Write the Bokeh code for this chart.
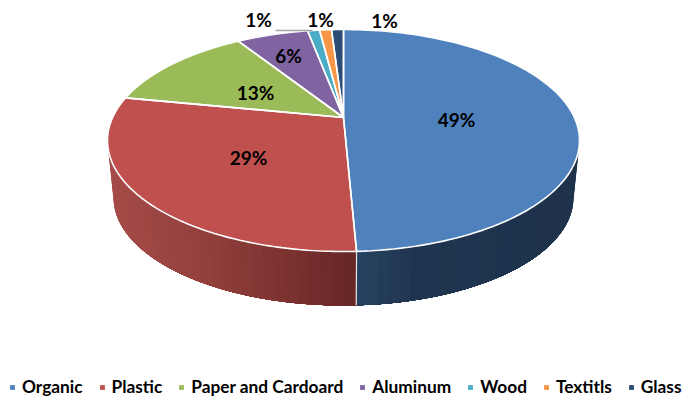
import numpy as np
from bokeh.core.properties import value
from bokeh.embed import file_html
from bokeh.models import Legend, LegendItem, Range1d
from bokeh.plotting import figure
from bokeh.resources import INLINE

categories = ["Organic", "Plastic", "Paper and Cardoard", "Aluminum", "Wood", "Textitls", "Glass"]
percent = [49, 29, 13, 6, 1, 1, 1]
colors = ["#4F81BD", "#C0504D", "#9BBB59", "#8064A2", "#4BACC6", "#F79646", "#2C4D75"]
label_texts = ["49%", "29%", "13%", "6%", "1%", "1%", "1%"]

# Label centres in page pixels
label_x = [456, 248, 255, 288, 384, 320, 258]
label_y = [119, 157, 92, 55, 20, 19, 19]

# Disc geometry in page pixels
CX, CY, RX, RY = 343.0, 140.0, 236.0, 111.0
BOTTOM_CY, BOTTOM_RX, BOTTOM_RY = 197.0, 230.0, 108.0
HUB_X, HUB_Y = 343.0, 117.0

# Perspective of the tilted disc, expressed as a map of the unit circle onto itself
TILT = complex(-0.0054, 0.1036)
TURN = 0.0099

# Colour stops along the front wall: (page x, rgb)
plastic_wall = [(107, (166, 76, 73)), (200, (146, 64, 60)), (280, (125, 50, 48)), (356, (100, 38, 38))]
organic_wall = [(356, (40, 68, 100)), (420, (32, 54, 80)), (579, (30, 50, 75))]


def project(theta):
    """Map a clockwise angle on the disc (0 = far side) to page pixels."""
    z = np.exp(1j * (np.pi / 2 - theta))
    w = (z + TILT) / (1 + np.conj(TILT) * z) * np.exp(-1j * TURN)
    return CX + RX * w.real, CY - RY * w.imag


def screen_param(theta):
    """Ellipse parameter of a projected angle, shared by the rim and the base."""
    px, py = project(theta)
    return np.arctan2((px - CX) / RX, (CY - py) / RY) % (2 * np.pi)


def ramp(stops, x):
    xs = [s[0] for s in stops]
    r, g, b = (np.interp(x, xs, [s[1][i] for s in stops]) for i in range(3))
    return "#%02x%02x%02x" % (int(r), int(g), int(b))


p = figure(width=684, height=400, output_backend="svg", toolbar_location=None,
           x_range=Range1d(0, 684), y_range=Range1d(400, 0), min_border=0,
           outline_line_color=None)
p.axis.visible = False
p.grid.visible = False

bounds = 2 * np.pi * np.concatenate([[0], np.cumsum(percent)]) / sum(percent)


def draw_wall(t_start, t_end, stops, n=32):
    """Paint the wall as overlapping bands so that no seams show between them."""
    ts = np.linspace(t_start, t_end, n + 1)
    for a in ts[:-1]:
        arc = np.linspace(a, t_end, 90)
        xs = np.r_[CX + RX * np.sin(arc), CX + BOTTOM_RX * np.sin(arc[::-1])]
        ys = np.r_[CY - RY * np.cos(arc), BOTTOM_CY - BOTTOM_RY * np.cos(arc[::-1])]
        c = ramp(stops, CX + RX * np.sin(a))
        p.patch(xs, ys, fill_color=c, line_color=None)


# Front wall: the two slices that face the viewer
seam = float(screen_param(bounds[1]))
draw_wall(np.pi / 2, seam, organic_wall)
draw_wall(3 * np.pi / 2, seam, plastic_wall)

seam_x = [CX + RX * np.sin(seam), CX + BOTTOM_RX * np.sin(seam)]
seam_y = [CY - RY * np.cos(seam), BOTTOM_CY - BOTTOM_RY * np.cos(seam)]
p.line(seam_x, seam_y, line_color="#e6e6e6", line_width=1.2)

# Top face
items = []
for i, name in enumerate(categories):
    x, y = project(np.linspace(bounds[i], bounds[i + 1], 120))
    r = p.patch(np.r_[HUB_X, x], np.r_[HUB_Y, y], fill_color=colors[i], line_color=None)
    items.append(LegendItem(label=name, renderers=[r]))

for i in range(len(categories)):
    x, y = project(np.linspace(bounds[i], bounds[i + 1], 120))
    p.line(np.r_[HUB_X, x, HUB_X], np.r_[HUB_Y, y, HUB_Y], line_color="white", line_width=1.6)

# Leader line beside the small slices
p.line([275, 312], [30, 30], line_color="#a6a6a6", line_width=1.5)

p.text(label_x, label_y, text=label_texts, text_align="center", text_baseline="middle",
       text_font=value("Lato"), text_font_style="bold", text_font_size="19px", text_color="black")

legend = Legend(items=items, orientation="horizontal", location=(9, 3), background_fill_alpha=0,
                border_line_color=None, margin=0, padding=0, spacing=16, glyph_width=6, glyph_height=6,
                label_standoff=7, label_text_font="Lato", label_text_font_style="bold",
                label_text_font_size="17.3px", label_text_color="black")
p.add_layout(legend)

open("out.html", "w").write(file_html(p, INLINE))
